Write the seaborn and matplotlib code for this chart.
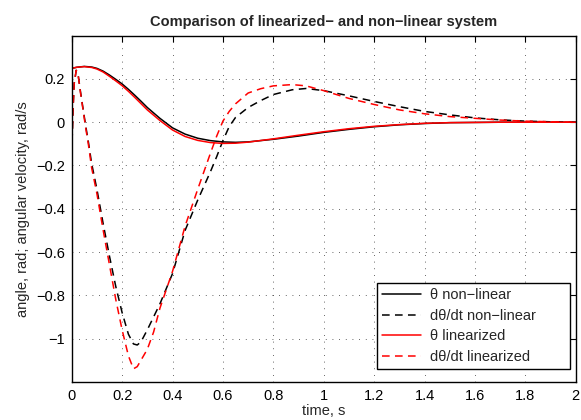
import matplotlib
matplotlib.use("Agg")
import matplotlib.pyplot as plt
import seaborn as sns
import numpy as np
import pandas as pd
from matplotlib.ticker import FuncFormatter

# Datos
t_theta = [0, 0.02, 0.05, 0.08, 0.1, 0.125, 0.15, 0.175, 0.2, 0.225, 0.25, 0.275,
           0.3, 0.35, 0.4, 0.45, 0.5, 0.55, 0.6, 0.65, 0.7, 0.8, 0.9, 1.0, 1.1,
           1.2, 1.3, 1.4, 1.5, 1.6, 1.7, 1.8, 1.9, 2.0]
theta_nl = [0.249, 0.254, 0.258, 0.255, 0.249, 0.236, 0.218, 0.198, 0.177, 0.152,
            0.125, 0.097, 0.068, 0.018, -0.026, -0.055, -0.074, -0.085, -0.091,
            -0.093, -0.091, -0.079, -0.064, -0.047, -0.033, -0.021, -0.012,
            -0.006, -0.002, -0.001, 0, 0, 0, 0]
theta_lin = [0.249, 0.254, 0.257, 0.253, 0.246, 0.232, 0.212, 0.191, 0.169, 0.143,
             0.115, 0.086, 0.057, 0.008, -0.036, -0.066, -0.084, -0.094, -0.098,
             -0.097, -0.092, -0.077, -0.06, -0.044, -0.03, -0.019, -0.011,
             -0.005, -0.002, -0.001, 0, 0, 0, 0]

t_omega = [0, 0.005, 0.01, 0.018, 0.026, 0.035, 0.046, 0.056, 0.066, 0.079, 0.1,
           0.125, 0.15, 0.175, 0.2, 0.225, 0.245, 0.26, 0.275, 0.3, 0.325, 0.35,
           0.4, 0.45, 0.5, 0.55, 0.575, 0.6, 0.625, 0.65, 0.7, 0.75, 0.8, 0.875,
           0.93, 1.0, 1.1, 1.2, 1.3, 1.4, 1.5, 1.6, 1.7, 1.8, 1.9, 2.0]
omega_nl = [-0.15, 0.05, 0.18, 0.24, 0.215, 0.14, 0.055, -0.02, -0.09, -0.19,
            -0.31, -0.47, -0.62, -0.76, -0.88, -0.98, -1.025, -1.03, -1.015,
            -0.96, -0.9, -0.84, -0.7, -0.5, -0.36, -0.23, -0.16, -0.085, -0.02,
            0.022, 0.068, 0.1, 0.128, 0.15, 0.156, 0.146, 0.122, 0.096, 0.072,
            0.05, 0.034, 0.02, 0.011, 0.005, 0.002, 0.0]
omega_lin = [-0.15, 0.05, 0.18, 0.24, 0.215, 0.135, 0.05, -0.03, -0.1, -0.21,
             -0.33, -0.5, -0.66, -0.82, -0.96, -1.08, -1.14, -1.13, -1.1, -1.05,
             -0.97, -0.86, -0.69, -0.48, -0.31, -0.145, -0.065, 0.005, 0.05,
             0.085, 0.135, 0.155, 0.168, 0.174, 0.168, 0.146, 0.11, 0.082, 0.057,
             0.039, 0.026, 0.018, 0.01, 0.005, 0.002, 0.0]

labels = ["θ non−linear", "dθ/dt non−linear", "θ linearized", "dθ/dt linearized"]
x_ticks = [0, 0.2, 0.4, 0.6, 0.8, 1, 1.2, 1.4, 1.6, 1.8, 2]
y_ticks = [-1, -0.8, -0.6, -0.4, -0.2, 0, 0.2]

sns.set_style("white")
plt.rcParams['font.family'] = ['Liberation Sans', 'DejaVu Sans']
plt.rcParams['font.size'] = 10.5

fig, ax = plt.subplots(figsize=(5.81, 4.2), dpi=100)
fig.subplots_adjust(left=0.1234, right=0.991, bottom=0.091, top=0.915)

# Curvas
dash = (0, (5, 3.5))
sns.lineplot(x=t_theta, y=theta_nl, ax=ax, color="black", lw=1.1, label=labels[0])
sns.lineplot(x=t_omega, y=omega_nl, ax=ax, color="black", lw=1.1, label=labels[1],
             linestyle=dash)
sns.lineplot(x=t_theta, y=theta_lin, ax=ax, color="#ff0000", lw=1.1, label=labels[2])
sns.lineplot(x=t_omega, y=omega_lin, ax=ax, color="#ff0000", lw=1.1, label=labels[3],
             linestyle=dash)

fmt = FuncFormatter(lambda v, p: ('%g' % v).replace('-', '−'))
ax.set_xlim(0, 2)
ax.set_ylim(-1.2, 0.4)
ax.set_xticks(x_ticks)
ax.set_yticks(y_ticks)
ax.xaxis.set_major_formatter(fmt)
ax.yaxis.set_major_formatter(fmt)
ax.tick_params(direction='in', top=True, right=True, length=4, width=0.8,
               labelsize=10.5, colors='black', pad=5)
ax.grid(True, color='0.2', linestyle=(0, (1, 7)), lw=0.6)

for s in ax.spines.values():
    s.set_color('black')
    s.set_linewidth(1.0)

ax.set_title("Comparison of linearized− and non−linear system", fontweight='bold',
             fontsize=10.5, pad=7)
ax.set_xlabel("time, s", labelpad=1)
ax.set_ylabel("angle, rad; angular velocity, rad/s", labelpad=4)

# Leyenda con el ancho de la original
leg = ax.legend(loc='lower left', bbox_to_anchor=(0.605, 0.037, 0.384, 0.247),
                mode='expand', borderaxespad=0, fancybox=False,
                framealpha=1, edgecolor='black', handlelength=2.7,
                handletextpad=0.6, labelspacing=0.45, borderpad=0.35,
                fontsize=10.5)
leg.get_frame().set_linewidth(1.0)

plt.savefig("out.png", dpi=100)
plt.close()
